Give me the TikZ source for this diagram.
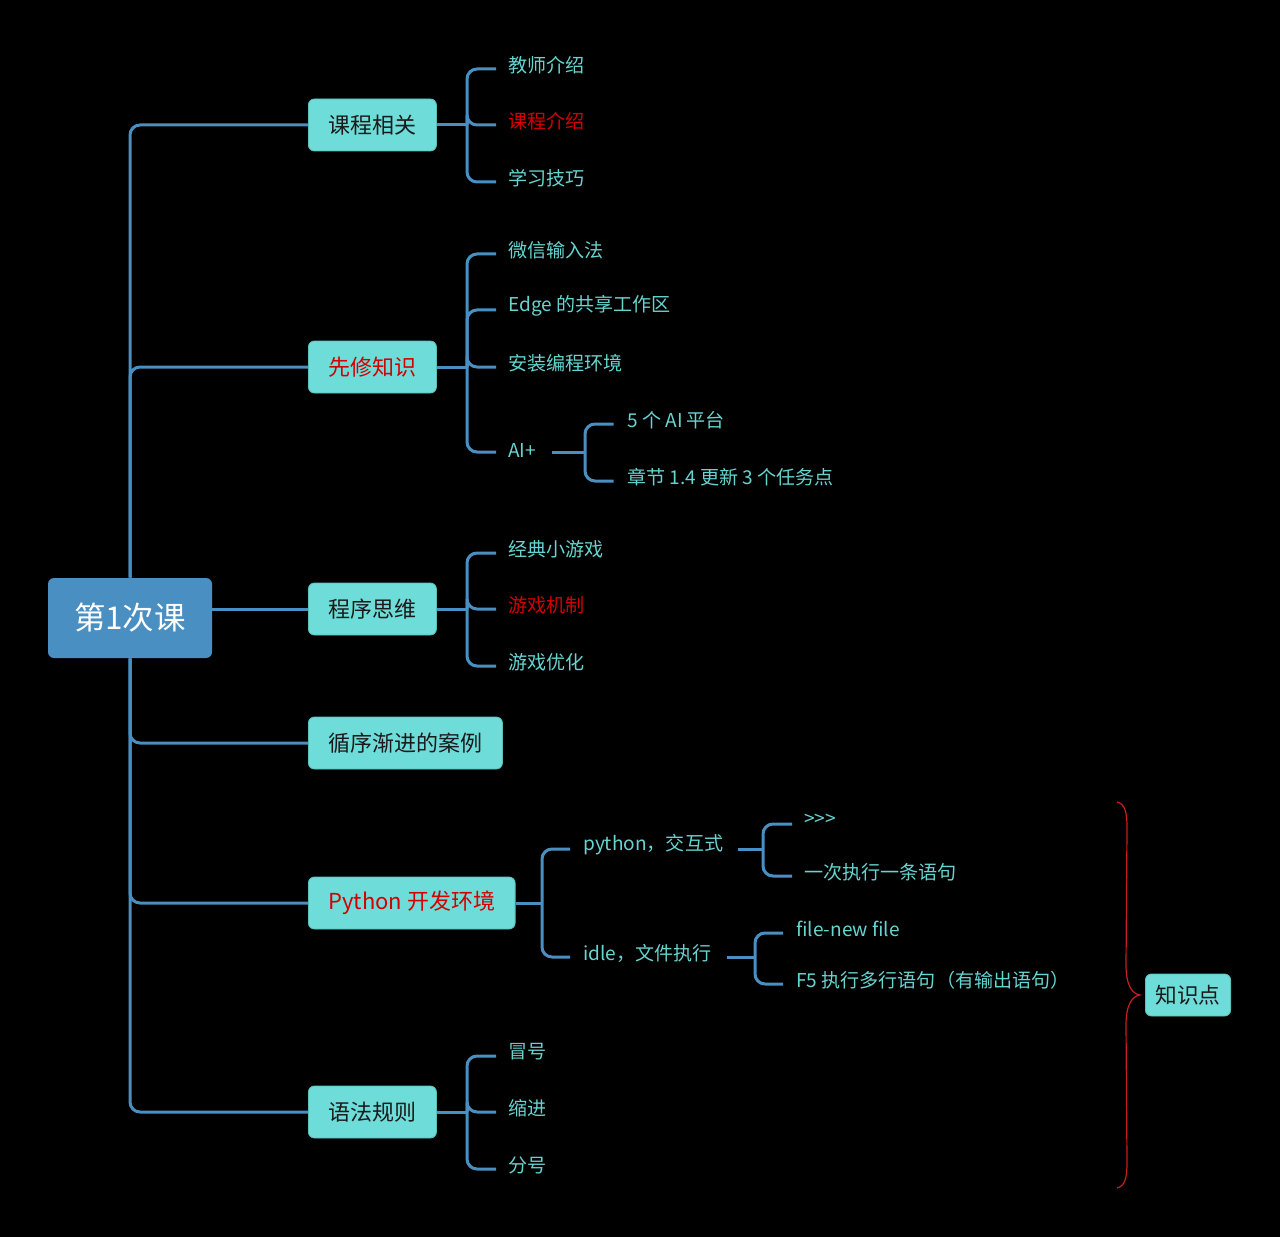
\documentclass[tikz,border=0pt]{standalone}
\usepackage{fontspec}
\setmainfont{Noto Sans CJK SC}
\definecolor{lineblue}{HTML}{4A8FC2}
\definecolor{rootblue}{HTML}{4A8FC2}
\definecolor{nodeteal}{HTML}{6EDCD8}
\definecolor{nodeborder}{HTML}{5BBFBB}
\definecolor{leafteal}{HTML}{66D4D0}
\definecolor{darktext}{HTML}{1A1A1A}
\definecolor{redtext}{HTML}{D40000}
\definecolor{bracered}{HTML}{C81E1E}
\tikzset{
  conn/.style={draw=lineblue, line width=2.25pt, rounded corners=7.5pt},
  rootbox/.style={rectangle, rounded corners=4.5pt, fill=rootblue, text=white,
    minimum width=123pt, minimum height=60pt, font=\fontsize{23.6pt}{26pt}\selectfont},
  lvone/.style={rectangle, rounded corners=4.5pt, fill=nodeteal, draw=nodeborder, line width=0.6pt,
    minimum height=39pt, inner xsep=15pt, text=darktext, anchor=west,
    font=\fontsize{16.5pt}{18pt}\selectfont},
  leaf/.style={inner sep=0pt, anchor=west, text=leafteal, font=\fontsize{14.3pt}{16pt}\selectfont},
  redleaf/.style={leaf, text=redtext},
}
\begin{document}
\begin{tikzpicture}[x=0.75pt,y=-0.75pt]
\fill[black] (0,0) rectangle (1280,1237);
\useasboundingbox (0,0) rectangle (1280,1237);

% root
\node[rootbox] (root) at (130,618) {第1次课};

% level one
\node[lvone] (n1) at (308,125) {课程相关};
\node[lvone, text=redtext] (n2) at (308,367) {先修知识};
\node[lvone] (n3) at (308,609) {程序思维};
\node[lvone] (n4) at (308,743) {循序渐进的案例};
\node[lvone, text=redtext] (n5) at (308,903) {Python 开发环境};
\node[lvone] (n6) at (308,1112) {语法规则};

% trunk
\draw[conn] (root.north) |- (n1.west);
\draw[conn] (root.north) |- (n2.west);
\draw[conn] (root.east |- n3.west) -- (n3.west);
\draw[conn] (root.south) |- (n4.west);
\draw[conn] (root.south) |- (n5.west);
\draw[conn] (root.south) |- (n6.west);

% leaves
\node[leaf] (c11) at (508,65) {教师介绍};
\node[redleaf] (c12) at (508,121) {课程介绍};
\node[leaf] (c13) at (508,178) {学习技巧};

\node[leaf] (c21) at (508,250) {微信输入法};
\node[leaf] (c22) at (508,306) {Edge 的共享工作区};
\node[leaf] (c23) at (508,363) {安装编程环境};
\node[leaf] (c24) at (508,451) {AI+};
\node[leaf] (c241) at (627,420) {5 个 AI 平台};
\node[leaf] (c242) at (627,477) {章节 1.4 更新 3 个任务点};

\node[leaf] (c31) at (508,549) {经典小游戏};
\node[redleaf] (c32) at (508,605) {游戏机制};
\node[leaf] (c33) at (508,662) {游戏优化};

\node[leaf] (c51) at (583,845) {python，交互式};
\node[leaf] (c52) at (583,953) {idle，文件执行};
\node[leaf] (c511) at (804,820) {>{}>{}>};
\node[leaf] (c512) at (804,872) {一次执行一条语句};
\node[leaf] (c521) at (796,929) {file-new file};
\node[leaf] (c522) at (796,980) {F5 执行多行语句（有输出语句）};

\node[leaf] (c61) at (508,1052) {冒号};
\node[leaf] (c62) at (508,1108) {缩进};
\node[leaf] (c63) at (508,1165) {分号};

% junctions
\coordinate (j1) at (467,125);
\coordinate (j2) at (467,367);
\coordinate (j3) at (467,609);
\coordinate (j5) at (542,903);
\coordinate (j6) at (467,1112);
\coordinate (j24) at (585,452);
\coordinate (j51) at (763,849);
\coordinate (j52) at (755,957);

\draw[conn] (n1.east) -- (j1);
\foreach \c in {c11,c12,c13} \draw[conn] (j1) |- ([xshift=-9pt,yshift=-3pt]\c.west);
\draw[conn] (n2.east) -- (j2);
\foreach \c in {c21,c22,c23} \draw[conn] (j2) |- ([xshift=-9pt,yshift=-3pt]\c.west);
\draw[conn] (j2) |- ([xshift=-9pt,yshift=-0.75pt]c24.west);
\draw[conn] ([xshift=12pt,yshift=-0.75pt]c24.east) -- (j24);
\foreach \c in {c241,c242} \draw[conn] (j24) |- ([xshift=-10pt,yshift=-3pt]\c.west);
\draw[conn] (n3.east) -- (j3);
\foreach \c in {c31,c32,c33} \draw[conn] (j3) |- ([xshift=-9pt,yshift=-3pt]\c.west);
\draw[conn] (n5.east) -- (j5);
\foreach \c in {c51,c52} \draw[conn] (j5) |- ([xshift=-9.75pt,yshift=-3pt]\c.west);
\draw[conn] ([xshift=11pt,yshift=-3pt]c51.east) -- (j51);
\foreach \c in {c511,c512} \draw[conn] (j51) |- ([xshift=-9pt,yshift=-3pt]\c.west);
\draw[conn] ([xshift=11pt,yshift=-3pt]c52.east) -- (j52);
\foreach \c in {c521,c522} \draw[conn] (j52) |- ([xshift=-9.75pt,yshift=-3pt]\c.west);
\draw[conn] (n6.east) -- (j6);
\foreach \c in {c61,c62,c63} \draw[conn] (j6) |- ([xshift=-9pt,yshift=-3pt]\c.west);

% summary
\node[lvone, anchor=center, minimum height=31.5pt, inner xsep=7.5pt, font=\fontsize{16.3pt}{18pt}\selectfont] (kp) at (1188,995) {知识点};
\draw[bracered, line width=0.9pt]
  (1117,802) .. controls (1125,804) and (1127,812) .. (1127,828)
  -- (1126,965) .. controls (1126,985) and (1132,994) .. (1140,995)
  .. controls (1132,996) and (1126,1005) .. (1126,1025)
  -- (1127,1162) .. controls (1127,1178) and (1125,1186) .. (1117,1188);
\end{tikzpicture}
\end{document}
